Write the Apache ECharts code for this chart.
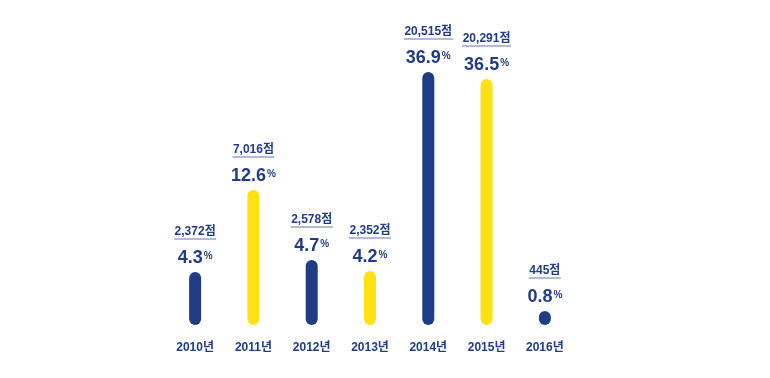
<!DOCTYPE html>
<html>
<head>
<meta charset="utf-8">
<script src="https://cdn.jsdelivr.net/npm/echarts@6/dist/echarts.min.js"></script>
<style>
html,body{margin:0;padding:0;background:#fff;}
#chart{width:770px;height:378px;}
</style>
</head>
<body>
<div id="chart"></div>
<script>
// Data
const categories = ['2010년', '2011년', '2012년', '2013년', '2014년', '2015년', '2016년'];
const points = ['2,372점', '7,016점', '2,578점', '2,352점', '20,515점', '20,291점', '445점'];
const percents = [4.3, 12.6, 4.7, 4.2, 36.9, 36.5, 0.8];
// drawn bar lengths (the infographic is not to scale), relative units
const barLengths = [53, 135, 65, 54, 253, 246, 14];

const NAVY = '#1f3c85';
const YELLOW = '#ffe114';
const barColors = [NAVY, YELLOW, NAVY, YELLOW, NAVY, YELLOW, NAVY];
const FONT = "'Liberation Sans', 'Noto Sans CJK KR', sans-serif";

// measure text widths for underlines
const cv = document.createElement('canvas').getContext('2d');
cv.font = "bold 12px 'Liberation Sans', 'Noto Sans CJK KR', sans-serif";
const rich = {
  pt: { fontFamily: FONT, fontWeight: 'bold', fontSize: 12, lineHeight: 12, color: NAVY },
  sp: { height: 8, lineHeight: 8 },
  pct: { fontFamily: FONT, fontWeight: 'bold', fontSize: 18, lineHeight: 20, color: NAVY },
  sup: { fontFamily: FONT, fontWeight: 'bold', fontSize: 10, lineHeight: 12, verticalAlign: 'top', color: NAVY, padding: [3, 0, 0, 1] }
};
points.forEach((p, i) => {
  rich['ul' + i] = { width: Math.round(cv.measureText(p).width) + 1, height: 2, lineHeight: 2, backgroundColor: '#b3bbd3' };
});

const chart = echarts.init(document.getElementById('chart'), null, { renderer: 'canvas' });
chart.setOption({
  animation: false,
  backgroundColor: '#ffffff',
  grid: { left: 166, right: 196, top: 25, bottom: 53 },
  xAxis: {
    type: 'category',
    data: categories,
    axisLine: { show: false },
    axisTick: { show: false },
    axisLabel: { margin: 17, fontFamily: FONT, fontWeight: 'bold', fontSize: 12, color: NAVY }
  },
  yAxis: { type: 'value', min: 0, max: 300, show: false, splitLine: { show: false } },
  series: [{
    type: 'bar',
    barWidth: 12,
    data: barLengths.map((v, i) => ({ value: v, itemStyle: { color: barColors[i] } })),
    itemStyle: { borderRadius: 6 },
    label: {
      show: true,
      position: 'top',
      distance: 4,
      formatter: p => '{pt|' + points[p.dataIndex] + '}\n{ul' + p.dataIndex + '|}\n{sp|}\n{pct|' + percents[p.dataIndex].toFixed(1) + '}{sup|%}',
      rich: rich
    }
  }]
});
</script>
</body>
</html>
